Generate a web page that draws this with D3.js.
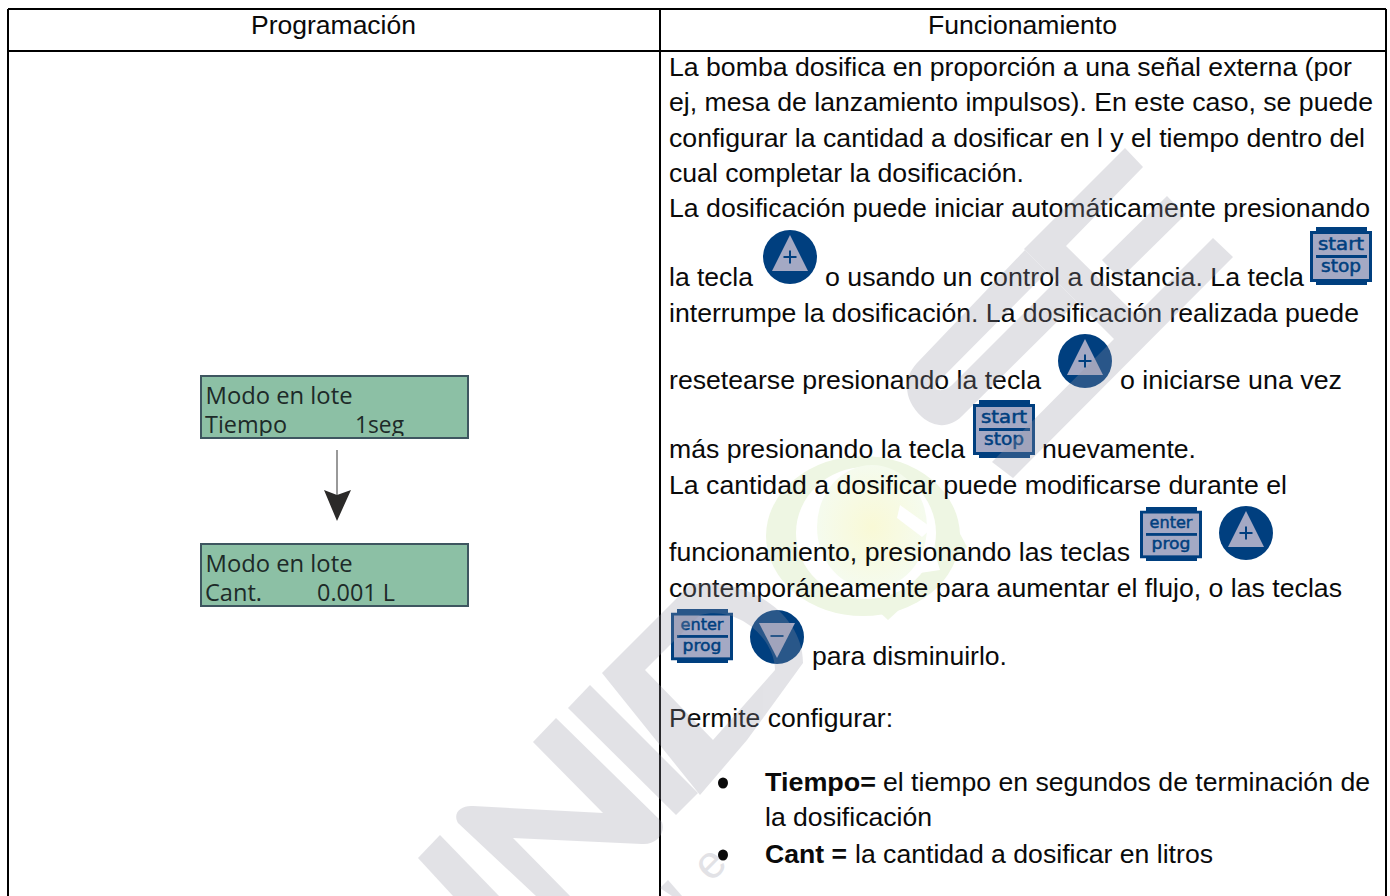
<!DOCTYPE html>
<html lang="es">
<head>
<meta charset="utf-8">
<script src="https://cdn.jsdelivr.net/npm/d3@7"></script>
<style>
html,body{margin:0;padding:0;background:#fff;overflow:hidden}
svg{display:block}
text{font-family:"Liberation Sans",Arial,sans-serif;fill:#0a0a0a;white-space:pre}
</style>
</head>
<body>
<svg id="c" width="1390" height="896"></svg>
<script>
// ---- content ----
const headers = ["Programación", "Funcionamiento"];
const bodyLines = [
  "La bomba dosifica en proporción a una señal externa (por",
  "ej, mesa de lanzamiento impulsos). En este caso, se puede",
  "configurar la cantidad a dosificar en l y el tiempo dentro del",
  "cual completar la dosificación.",
  "La dosificación puede iniciar automáticamente presionando",
  "la tecla",
  "o usando un control a distancia. La tecla",
  "interrumpe la dosificación. La dosificación realizada puede",
  "resetearse presionando la tecla",
  "o iniciarse una vez",
  "más presionando la tecla",
  "nuevamente.",
  "La cantidad a dosificar puede modificarse durante el",
  "funcionamiento, presionando las teclas",
  "contemporáneamente para aumentar el flujo, o las teclas",
  "para disminuirlo.",
  "Permite configurar:",
  "el tiempo en segundos de terminación de",
  "la dosificación",
  "la cantidad a dosificar en litros"
];
const boldLabels = ["Tiempo=", "Cant ="];
const lcdLines = [["Modo en lote", "Tiempo", "1seg"], ["Modo en lote", "Cant.", "0.001 L"]];
const keyFaces = [["start", "stop"], ["enter", "prog"]];

// ---- layout ----
const bodyPos = [
  [669,1352,76],[669,1373,111],[669,1365,147],[669,1024,182],[669,1370,217],
  [669,753,286],[825,1304,286],[669,1359,322],[669,1041,389],[1120,1342,389],
  [669,965,458],[1042,1196,458],[669,1287,494],[669,1130,561],[669,1342,597],
  [812,1007,665],[669,893,727],[883,1370,791],[765,932,826],[855,1213,863]
];
const boldPos = [[765,876,791],[765,847,863]];
const circles = [[790,257,"+"],[1085,361,"+"],[1246,533,"+"],[777,637,"-"]];
const keys = [[1310,227,0],[973,400,0],[1140,507,1],[671,609,1]];

const svg = d3.select("#c");
const defs = svg.append("defs");
const grad = defs.append("radialGradient").attr("id","qg");
grad.append("stop").attr("offset","0").attr("stop-color","#f9f9d6");
grad.append("stop").attr("offset","1").attr("stop-color","#f5fbee");
defs.selectAll("clipPath").data(lcdLines).join("clipPath").attr("id",(d,i)=>"lcd"+i)
  .append("rect").attr("x",200).attr("y",(d,i)=>[376,544][i]).attr("width",268).attr("height",60);

// green Q logo (under the text)
const q = svg.append("g");
q.append("ellipse").attr("cx",863).attr("cy",536).attr("rx",97).attr("ry",80).attr("fill","#eef6e3");
q.append("path").attr("fill","#eef6e3").attr("d","M873 606 L888 620 L967 547 L950 515Z");
q.append("ellipse").attr("cx",866).attr("cy",533).attr("rx",70).attr("ry",66).attr("fill","#fff");
q.append("path").attr("fill","#fff").attr("d","M873 580 L940 570 L925 520 L900 560Z");
q.append("ellipse").attr("cx",872).attr("cy",527).attr("rx",55).attr("ry",62).attr("fill","url(#qg)");
q.append("path").attr("fill","#fff").attr("d","M900 505 L932 528 L922 537 L897 518Z");

// table rules
const rules = [[8,9,1386,9],[8,51,1386,51],[8,9,8,896],[660,9,660,896],[1386,9,1386,896]];
svg.append("g").selectAll("line").data(rules).join("line")
  .attr("x1",d=>d[0]).attr("y1",d=>d[1]).attr("x2",d=>d[2]).attr("y2",d=>d[3])
  .attr("stroke","#000").attr("stroke-width",2);

// headers
const fit = (sel,pos) => sel.attr("x",(d,i)=>pos[i][0]).attr("y",(d,i)=>pos[i][2])
  .attr("textLength",(d,i)=>pos[i][1]-pos[i][0]).attr("lengthAdjust","spacingAndGlyphs");
svg.append("g").selectAll("text").data(headers).join("text")
  .attr("font-size",25).text(d=>d).call(fit,[[251,416,34],[928,1117,34]]);

// body copy
svg.append("g").selectAll("text").data(bodyLines).join("text")
  .attr("font-size",25.5).text(d=>d).call(fit,bodyPos);
svg.append("g").selectAll("text").data(boldLabels).join("text")
  .attr("font-size",25.5).attr("font-weight",700).text(d=>d).call(fit,boldPos);
svg.append("g").selectAll("ellipse").data(boldLabels).join("ellipse")
  .attr("cx",723).attr("cy",(d,i)=>[783,855][i]).attr("rx",5).attr("ry",5.5).attr("fill","#0a0a0a");

// LCD panels
const lcd = svg.append("g").selectAll("g").data(lcdLines).join("g");
lcd.append("rect").attr("x",201).attr("y",(d,i)=>[376,544][i]).attr("width",267).attr("height",62)
  .attr("fill","#8cc0a5").attr("stroke","#3e5660").attr("stroke-width",2);
const lcdT = lcd.append("g").attr("clip-path",(d,i)=>`url(#lcd${i})`);
const lcdX = [[205.5,205,355],[205.5,205,317]], lcdY=[[404,433],[572,601]];
const lcdW = [[147,82,49],[147,57,78]];
[0,1,2].forEach(j=>{
  lcdT.append("text").text(d=>d[j])
    .attr("x",(d,i)=>lcdX[i][j]).attr("y",(d,i)=>lcdY[i][j?1:0])
    .attr("textLength",(d,i)=>lcdW[i][j]).attr("lengthAdjust","spacingAndGlyphs")
    .style("font-family",'"Open Sans"').style("font-size","23px").style("fill","#1d2a28");
});

// arrow
svg.append("line").attr("x1",337).attr("x2",337).attr("y1",450).attr("y2",495).attr("stroke","#777").attr("stroke-width",1.5);
svg.append("path").attr("d","M324 490 L337 495 L351 490 L337 521Z").attr("fill","#2b2a29");

// round keys
const navy="#003f7f", face="#a4a9c4";
const cg = svg.append("g").selectAll("g").data(circles).join("g")
  .attr("transform",d=>`translate(${d[0]},${d[1]})`);
cg.append("circle").attr("r",27).attr("fill",navy);
cg.append("path").attr("fill",face).attr("d",d=>d[2]==="+"?"M0 -22 L18 14 L-18 14Z":"M-18 -14 L18 -14 L0 21Z");
cg.append("path").attr("stroke",navy).attr("stroke-width",2).attr("fill","none")
  .attr("d",d=>d[2]==="+"?"M-6.5 0H6.5M0 -6.5V6.5":"M-6.5 -1H6.5");

// square keys
const kg = svg.append("g").selectAll("g").data(keys).join("g")
  .attr("transform",d=>`translate(${d[0]},${d[1]}) scale(1,${d[2]?0.93:1})`);
kg.append("path").attr("fill",navy).attr("d","M6 0H57V4H62V55H57V58H6V55H0V4H6Z");
kg.append("rect").attr("x",3).attr("y",7).attr("width",56).attr("height",45).attr("fill",face);
kg.append("rect").attr("x",6).attr("y",28).attr("width",51).attr("height",3).attr("fill",navy);
const faceW = [[46,40],[43,39]];
[0,1].forEach(j=>kg.append("text").text(d=>keyFaces[d[2]][j]).attr("x",d=>31-faceW[d[2]][j]/2).attr("y",j?45:23)
  .attr("textLength",d=>faceW[d[2]][j]).attr("lengthAdjust","spacingAndGlyphs")
  .style("font-family",'"DejaVu Sans"').style("font-size","17px").style("fill",navy)
  .style("stroke",navy).style("stroke-width",.5));

// watermark, laid over everything
const wm = [
 // E: top arm, stem and long low arm
 "M1125 148 L1143 167 L1066 246 L1136 315 L1213 238 L1233 257 L1013 478 L992 462 L1114 339 L1024 249Z",
 // E: detached middle arm
 "M1167 196 L1185 215 L1120 279 L1102 260Z",
 // rounded loop
 "M1025 250 L917 363 C903 378 903 400 922 417 C935 428 950 428 962 416 L1077 302 L1056 281 L952 385 C945 392 932 392 936 384 L1047 272Z",
 // D
 "M602 673 L690 585 C740 575 803 610 803 663 L747 740 L700 795Z M645 670 L700 615 C740 605 775 640 775 670 L713 740Z",
 // bars and N
 "M590 685 L568 708 L676 815 L698 793Z",
 "M556 718 L662 822 C666 835 655 845 642 844 L513 838 L570 896 L536 896 L458 823 C452 812 462 805 473 806 L603 813 L533 742Z",
 "M440 835 L418 858 L453 896 L499 896Z",
 // stub of the letter cut by the page edge
 "M660 888 L668 880 L682 896 L672 896Z"
];
const wmG = svg.append("g").attr("opacity",.27);
wmG.selectAll("path").data(wm).join("path").attr("d",d=>d).attr("fill","rgb(150,150,165)").attr("fill-rule","evenodd");
const tail = ["e"];
wmG.selectAll("text").data(tail).join("text").text(d=>d)
  .attr("transform","translate(711,883) rotate(-45)")
  .style("font-size","46px").style("fill","rgb(150,150,165)");
</script>
</body>
</html>
